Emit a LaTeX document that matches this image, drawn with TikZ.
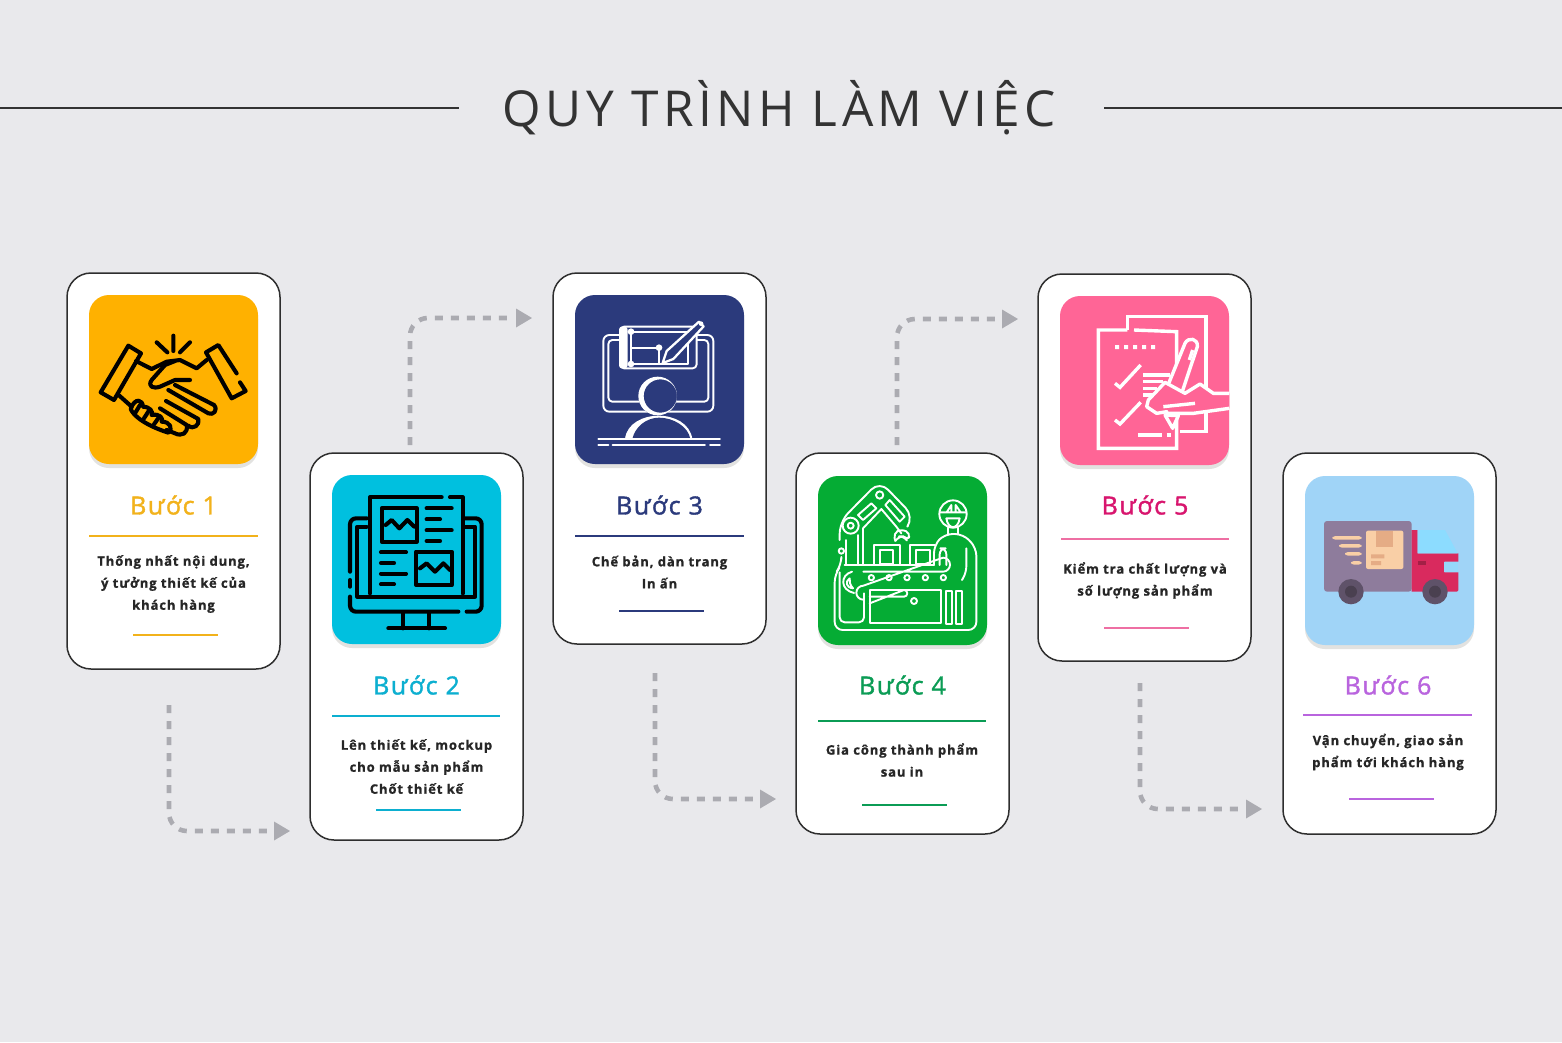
\documentclass[tikz,border=0pt]{standalone}
\usepackage{fontspec}
\usetikzlibrary{arrows.meta}
\setmainfont{Open Sans}
\newfontfamily\titlef[LetterSpace=9]{Open Sans}
\newfontfamily\bodyf[LetterSpace=7,BoldFeatures={FakeBold=1.2}]{Open Sans}
\newfontfamily\headf[LetterSpace=6,FakeBold=1.4]{Open Sans}
\definecolor{bg}{HTML}{E9E9EC}
\definecolor{ink}{HTML}{333333}
\definecolor{bodyink}{HTML}{262626}
\definecolor{cardline}{HTML}{2E2E2E}
\definecolor{flow}{HTML}{ABABB1}
\definecolor{cgold}{HTML}{FFB100}
\definecolor{tgold}{HTML}{F2B21B}
\definecolor{ccyan}{HTML}{00C0DF}
\definecolor{tcyan}{HTML}{0CAFD0}
\definecolor{cnavy}{HTML}{2B3A7C}
\definecolor{cgreen}{HTML}{05AC34}
\definecolor{tgreen}{HTML}{0B9C55}
\definecolor{cpink}{HTML}{FF6596}
\definecolor{tpink}{HTML}{D8156E}
\definecolor{lpink}{HTML}{EE6FA3}
\definecolor{csky}{HTML}{A0D4F7}
\definecolor{tpurple}{HTML}{B964DE}
\definecolor{shade}{HTML}{E2E2E0}
\definecolor{tbox}{HTML}{8E7C9C}
\definecolor{tcab}{HTML}{D92A5E}
\definecolor{tglass}{HTML}{8CDCFF}
\definecolor{tpack}{HTML}{F9CFA6}
\definecolor{ttape}{HTML}{E5AC85}
\definecolor{twheel}{HTML}{5F5269}
\definecolor{thub}{HTML}{4A4050}
\tikzset{
  card/.style={draw=cardline,line width=1.5pt,fill=white,rounded corners=24pt,minimum width=213pt,inner sep=0pt},
  iconbox/.style={rounded corners=20pt,minimum width=169pt,minimum height=169pt,inner sep=0pt},
  head/.style={font=\headf\fontsize{25}{28}\selectfont,inner sep=0pt},
  body/.style={font=\bodyf\bfseries\fontsize{13}{22}\selectfont,text=bodyink,align=center,inner sep=0pt},
  rulelong/.style={line width=1.7pt},
  flowline/.style={draw=flow,line width=4.6pt,dash pattern=on 8pt off 8pt,rounded corners=18pt},
  flowtip/.style={fill=flow,draw=none},
  iconk/.style={line width=4.1pt,line cap=round,line join=round,draw=black},
  iconw/.style={line width=1.9pt,line cap=round,line join=round,draw=white},
  zoomthird/.style={x=0.33333pt,y=-0.33333pt},
}
\begin{document}
\begin{tikzpicture}[x=1pt,y=-1pt]
\useasboundingbox (0,0) rectangle (1562,1042);
\fill[bg] (0,0) rectangle (1562,1042);

% title
\node[font=\titlef\fontsize{49.5}{54}\selectfont,text=ink,inner sep=0pt] (title) at (779,108) {QUY TRÌNH LÀM VIỆC};
\coordinate (tl0) at (0,108); \coordinate (tl1) at (459,108);
\coordinate (tr0) at (1104,108); \coordinate (tr1) at (1562,108);
\draw[ink,line width=1.2pt] (tl0) -- (tl1);
\draw[ink,line width=1.2pt] (tr0) -- (tr1);

% cards
\node[card,minimum height=396pt] (card1) at (173.5,471) {};
\node[card,minimum height=387pt] (card2) at (416.5,646.5) {};
\node[card,minimum height=371pt] (card3) at (659.5,458.5) {};
\node[card,minimum height=381pt] (card4) at (902.5,643.5) {};
\node[card,minimum height=387pt] (card5) at (1144.5,467.5) {};
\node[card,minimum height=381pt] (card6) at (1389.5,643.5) {};

% icon tiles
\foreach \cx/\cy/\col/\nm in {173.5/379.5/cgold/icon1,416.5/559.5/ccyan/icon2,659.5/379.5/cnavy/icon3,902.5/560.5/cgreen/icon4,1144.5/380.5/cpink/icon5,1389.5/560.5/csky/icon6}{
  \node[iconbox,fill=shade] at (\cx,\cy+4) {};
  \node[iconbox,fill=\col] (\nm) at (\cx,\cy) {};
}

% icon 1: handshake
\begin{scope}[shift={(60,265)},zoomthird]
\draw[iconk] (205,242)--(243,265)--(162,405)--(122,382)--cycle;
\draw[iconk] (530,325)--(475,240)--(438,262)--(515,400)--(557,378)--(540,352);
\draw[iconk] (340,212)--(340,258) (290,232)--(322,262) (390,232)--(360,262);
\draw[iconk] (228,288)--(275,312)--(320,290)--(360,285)--(410,310)--(440,285);
\draw[iconk] (345,288)--(315,300)--(275,345) .. controls (262,365) and (280,372) .. (300,365)--(345,345)--(390,345);
\draw[iconk] (345,360)--(462,420) .. controls (475,435) and (460,452) .. (445,445)--(325,375);
\draw[iconk] (318,408)--(415,462) .. controls (420,480) and (400,495) .. (385,482);
\draw[iconk] (300,430)--(380,480) .. controls (385,505) and (365,515) .. (345,505)--(320,495);
\draw[iconk] (178,392)--(215,425);
\draw[iconk] (212,432) .. controls (225,395) and (250,405) .. (248,425) .. controls (270,425) and (280,440) .. (275,450) .. controls (300,445) and (310,460) .. (305,470) .. controls (330,470) and (340,490) .. (325,503) .. controls (300,495) and (230,470) .. (212,432)--cycle;
\draw[iconk] (240,420)--(225,445) (268,435)--(252,460) (298,455)--(282,478);
\end{scope}

% icon 2: monitor with page
\begin{scope}[shift={(320,465)},zoomthird]
\draw[iconk,rounded corners=6pt] (90,320)--(90,160)--(140,160);
\draw[iconk,rounded corners=6pt] (435,160)--(485,160)--(485,440)--(440,440);
\draw[iconk,rounded corners=6pt] (90,395)--(90,440)--(415,440);
\draw[iconk] (90,345)--(90,365);
\draw[iconk] (140,185)--(112,185)--(112,395)--(465,395)--(465,185)--(430,185);
\draw[iconk] (150,385)--(150,97)--(365,97) (390,97)--(428,97)--(428,385);
\draw[iconk] (185,130) rectangle (290,230);
\draw[iconk] (197,180)--(215,165)--(238,190)--(262,165)--(283,185);
\draw[iconk] (320,130)--(395,130) (320,163)--(360,163) (320,196)--(395,196) (320,228)--(360,228);
\draw[iconk] (183,262)--(258,262) (183,294)--(222,294) (183,326)--(258,326) (183,358)--(222,358);
\draw[iconk] (288,260) rectangle (395,360);
\draw[iconk] (300,310)--(320,295)--(345,320)--(370,295)--(390,315);
\draw[iconk] (248,445)--(248,490) (328,445)--(328,490) (205,490)--(375,490);
\end{scope}

% icon 3: designer
\begin{scope}[shift={(565,285)},zoomthird]
\draw[iconw,rounded corners=6pt] (115,150) rectangle (445,380);
\draw[iconw,rounded corners=4pt] (130,165) rectangle (430,350);
\draw[iconw,fill=cnavy,rounded corners=4pt] (165,125) rectangle (395,250);
\fill[white,rounded corners=3pt] (162,125) rectangle (188,250);
\draw[iconw] (190,140)--(370,140)--(370,237)--(190,237);
\draw[iconw] (198,140)--(198,237) (198,188)--(282,188)--(282,235);
\fill[white] (198,140) circle (10) (198,237) circle (10) (282,188) circle (10);
\draw[iconw,fill=cnavy,line width=2.3pt] (402,110)--(416,124)--(325,222)--(293,234)--(305,198)--cycle;
\fill[white] (408,116) circle (7);
\fill[cnavy] (278,333) circle (58);
\fill[white,even odd rule] (278,333) circle (58) (286,333) circle (50);
\fill[white] (180,462) .. controls (185,415) and (235,392) .. (280,392) .. controls (328,392) and (375,415) .. (382,462) -- cycle;
\fill[cnavy] (202,462) .. controls (210,425) and (245,398) .. (282,398) .. controls (325,398) and (370,425) .. (376,462) -- cycle;
\draw[iconw] (100,463)--(465,463) (100,480)--(130,480) (143,480)--(420,480) (435,480)--(465,480);
\end{scope}

% icon 4: factory
\begin{scope}[shift={(808,465)},zoomthird]
% frame
\draw[iconw,rounded corners=8pt] (100,282)--(100,300)--(80,328)--(80,495)--(505,495)--(505,248)--(465,207)--(410,207)--(378,240)--(378,300);
\draw[iconw,rounded corners=5pt] (95,322)--(95,472)--(168,472)--(168,385);
\draw[iconw] (100,258) circle (8);
% robot arm
\draw[iconw,rounded corners=12pt] (95,225)--(95,170)--(215,48)--(318,155)--(300,182);
\draw[iconw] (128,182) circle (24) (128,182) circle (9);
\draw[iconw] (215,90) circle (11);
\draw[iconw] (150,150)--(190,115)--(205,130)--(165,165)--cycle;
\draw[iconw] (245,105)--(290,155)--(275,170)--(232,120)--cycle;
\draw[iconw] (150,210)--(150,297) (165,297)--(165,190)--(220,132)--(265,185)--(280,205);
\draw[iconw] (115,225)--(115,297);
\draw[iconw,rounded corners=5pt] (262,228)--(256,205)--(280,192)--(308,205)--(298,228)--(288,214)--(272,214)--(262,228);
\draw[iconw] (198,297)--(198,240)--(275,240)--(275,297) (305,297)--(305,240)--(380,240);
\draw[iconw] (215,255) rectangle (255,297) (325,255) rectangle (365,297);
\draw[iconw] (110,300)--(378,300);
% conveyor
\draw[iconw] (166,320) -- (405,320) arc[start angle=90,end angle=-90,radius=21] -- (166,362) arc[start angle=270,end angle=90,radius=21];
\foreach \xx in {190,243,297,352,406}{\draw[iconw] (\xx,338) circle (8);}
\draw[iconw] (132,320) .. controls (96,330) and (96,375) .. (138,384);
\draw[iconw] (125,340) .. controls (110,350) and (115,368) .. (135,370) .. controls (126,360) and (124,350) .. (125,340) -- cycle;
% table and legs
\draw[iconw] (185,375) rectangle (400,475);
\draw[iconw] (185,395)--(288,395) arc[start angle=90,end angle=-90,radius=10] --(185,415);
\draw[iconw] (318,408) circle (9);
\draw[iconw] (415,378) rectangle (432,478) (445,378) rectangle (462,478);
% worker
\draw[iconw,rounded corners=6pt] (395,300)--(395,250)--(415,250)--(415,300);
\draw[iconw,rounded corners=6pt] (475,250)--(475,322)--(462,345);
\draw[iconw,fill=cgreen] (435,147) circle (41);
\draw[iconw] (396,142)--(474,142) (416,142)--(430,120)--(430,142) (443,142)--(443,120)--(458,142);
\draw[iconw] (415,160)--(455,160) .. controls (450,195) and (420,195) .. (415,160);
\draw[iconw] (420,188)--(420,207) (450,188)--(450,207);
\end{scope}

% icon 5: checklist
\begin{scope}[shift={(1050,285)},zoomthird,every path/.style={line width=3.4pt,draw=white,line join=miter}]
\draw (232,135)--(232,95)--(468,95)--(468,440)--(390,440);
\draw (252,135)--(380,140)--(380,490)--(145,490)--(145,135)--(232,135);
\fill[white,draw=none] (195,180) rectangle (207,192) (222,180) rectangle (234,192) (249,180) rectangle (261,192) (276,180) rectangle (288,192) (303,180) rectangle (315,192);
\draw (195,295)--(210,307)--(272,240);
\draw (195,405)--(210,417)--(272,352);
\draw (280,270)--(360,270) (280,290)--(340,290) (280,310)--(320,310) (280,330)--(310,330);
\draw (265,450)--(335,450) (350,450)--(362,450);
\draw[fill=cpink,line join=round] (405,175) .. controls (415,155) and (445,160) .. (442,185)--(395,325)--(350,310)--cycle;
\draw (418,225)--(428,195);
\draw[fill=cpink,line join=round] (538,325)--(490,325)--(450,297)--(405,325)--(345,292)--(295,345)--(290,365)--(320,385)--(350,380)--(350,385)--(430,385)--(538,370);
\draw (340,365)--(435,355);
\draw[fill=cpink,line join=round] (345,390)--(385,392)--(368,430)--cycle;
\end{scope}

% icon 6: truck
\begin{scope}[shift={(1295,465)},zoomthird]
\fill[tbox,rounded corners=3pt] (87,168)--(350,168)--(350,380)--(87,380)--cycle;
\fill[tcab] (350,195)--(368,195)--(368,265)--(490,265)--(490,290)--(448,290)--(448,322)--(490,322)--(490,376)--(486,380)--(350,380)--cycle;
\fill[tglass] (368,195)--(450,195)--(488,265)--(368,265)--cycle;
\fill[tglass!55!csky] (448,290)--(490,290)--(490,322)--(448,322)--cycle;
\fill[tpack,rounded corners=2pt] (213,197) rectangle (325,312);
\fill[ttape] (243,197) rectangle (293,245);
\fill[ttape] (228,268) rectangle (268,280) (228,288) rectangle (258,300);
\fill[tpack,rounded corners=3pt] (112,213) rectangle (200,224) (132,237) rectangle (200,248) (150,261) rectangle (200,272) (168,288) rectangle (200,299);
\fill[twheel] (168,380) circle (38);
\fill[thub] (168,380) circle (18);
\fill[twheel] (420,380) circle (38);
\fill[thub] (420,380) circle (18);
\fill[tcab!75!black] (370,288) rectangle (392,299);
\end{scope}

% labels, rules, descriptions
\node[head,text=tgold] (h1) at (173.5,505) {Bước 1};
\node[head,text=tcyan] (h2) at (416.5,685) {Bước 2};
\node[head,text=cnavy] (h3) at (659.5,505) {Bước 3};
\node[head,text=tgreen] (h4) at (902.5,685) {Bước 4};
\node[head,text=tpink] (h5) at (1145,505) {Bước 5};
\node[head,text=tpurple] (h6) at (1388,685) {Bước 6};

\draw[rulelong,tgold] (89,536)--(258,536);
\draw[rulelong,tcyan] (332,716)--(500,716);
\draw[rulelong,cnavy] (575,536)--(744,536);
\draw[rulelong,tgreen] (818,721)--(986,721);
\draw[rulelong,lpink] (1061,539)--(1229,539);
\draw[rulelong,tpurple] (1303,715)--(1472,715);

\draw[rulelong,tgold] (133,635)--(218,635);
\draw[rulelong,tcyan] (376,810)--(461,810);
\draw[rulelong,cnavy] (619,611)--(704,611);
\draw[rulelong,tgreen] (862,805)--(947,805);
\draw[rulelong,lpink] (1104,628)--(1189,628);
\draw[rulelong,tpurple] (1349,799)--(1434,799);

\node[body] (d1) at (173.5,584) {Thống nhất nội dung,\\ý tưởng thiết kế của\\khách hàng};
\node[body] (d2) at (416.5,766.5) {Lên thiết kế, mockup\\cho mẫu sản phẩm\\Chốt thiết kế};
\node[body] (d3) at (659.5,572) {Chế bản, dàn trang\\In ấn};
\node[body] (d4) at (902,760) {Gia công thành phẩm\\sau in};
\node[body] (d5) at (1145,580.5) {Kiểm tra chất lượng và\\số lượng sản phẩm};
\node[body] (d6) at (1388,752) {Vận chuyển, giao sản\\phẩm tới khách hàng};

% connectors
\coordinate (a1) at (169,705); \coordinate (a1c) at (169,831); \coordinate (a1e) at (290,831);
\coordinate (a2) at (410,445); \coordinate (a2c) at (410,318); \coordinate (a2e) at (532,318);
\coordinate (a3) at (655,673); \coordinate (a3c) at (655,799); \coordinate (a3e) at (776,799);
\coordinate (a4) at (897,445); \coordinate (a4c) at (897,319); \coordinate (a4e) at (1018,319);
\coordinate (a5) at (1140,683); \coordinate (a5c) at (1140,809); \coordinate (a5e) at (1262,809);
\foreach \n in {1,...,5}{
  \draw[flowline,shorten >=19pt] (a\n) -- (a\n c) -- (a\n e);
  \fill[flowtip] (a\n e) -- ++(-16,-9.5) -- ++(0,19) -- cycle;
}
\end{tikzpicture}
\end{document}
